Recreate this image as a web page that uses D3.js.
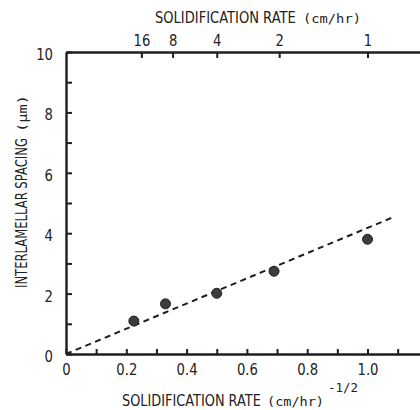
<!DOCTYPE html>
<html><head><meta charset="utf-8">
<script src="https://cdn.jsdelivr.net/npm/d3@7"></script>
<style>
body{margin:0;background:#fff;}
svg{display:block;}
.lab{font-family:"DejaVu Sans","Liberation Sans",sans-serif;fill:#222;}
.mono{font-family:"DejaVu Sans Mono","Liberation Mono",monospace;fill:#222;}
</style></head>
<body>
<script>
// ---- data ----
const invSqrtRate = [0.225, 0.33, 0.5, 0.69, 1.0];
const spacing = [1.09, 1.66, 2.01, 2.74, 3.80];
const fitLine = [[0, 0], [1.09, 4.55]];
const topRates = [16, 8, 4, 2, 1];
const yTicks = [0,1,2,3,4,5,6,7,8,9,10];
const xTicks = [0,0.1,0.2,0.3,0.4,0.5,0.6,0.7,0.8,0.9,1.0,1.1,1.2];

const W = 420, H = 410;
const svg = d3.select("body").append("svg").attr("width", W).attr("height", H);

const x = d3.scaleLinear().domain([0, 1.2]).range([66, 427.8]);
const y = d3.scaleLinear().domain([0, 10]).range([354, 52]);

const ink = "#1e1e1e";
function squeeze(sel, f){
  sel.each(function(){
    const w = this.getComputedTextLength();
    if (w > 0) d3.select(this).attr("textLength", w*f).attr("lengthAdjust","spacingAndGlyphs");
  });
}
function styleAxis(g){
  g.select(".domain").attr("stroke", ink).attr("stroke-width", 2.4);
  g.selectAll(".tick line").attr("stroke", ink).attr("stroke-width", 2);
  const t = g.selectAll(".tick text").attr("class","lab").attr("font-size", 16.5).attr("fill", "#222");
  squeeze(t, 0.8);
}

// left axis
svg.append("g").attr("transform", `translate(${x(0)},0)`)
  .call(d3.axisLeft(y).tickValues(yTicks).tickSize(-6).tickSizeOuter(0).tickPadding(13)
    .tickFormat(d => d % 2 === 0 ? d : ""))
  .call(styleAxis)
  .selectAll(".tick text").attr("dy", "0.45em");

// bottom axis
svg.append("g").attr("transform", `translate(0,${y(0)})`)
  .call(d3.axisBottom(x).tickValues(xTicks).tickSize(-5).tickSizeOuter(0).tickPadding(9)
    .tickFormat(d => { const k = Math.round(d*10); if (k % 2 !== 0 || k > 10) return ""; return k === 0 ? "0" : d.toFixed(1); }))
  .call(styleAxis);

// top axis
svg.append("g").attr("transform", `translate(0,${y(10)})`)
  .call(d3.axisTop(x).tickValues(topRates.map(r => 1/Math.sqrt(r))).tickSize(-6).tickSizeOuter(0).tickPadding(6)
    .tickFormat((d,i) => topRates[i]))
  .call(styleAxis);

// fit line
svg.append("path")
  .attr("d", d3.line().x(d => x(d[0])).y(d => y(d[1]))(fitLine))
  .attr("fill", "none").attr("stroke", ink).attr("stroke-width", 2)
  .attr("stroke-dasharray", "6,4.5");

// points
svg.selectAll("circle.pt").data(invSqrtRate).enter().append("circle")
  .attr("class","pt")
  .attr("cx", d => x(d)).attr("cy", (d,i) => y(spacing[i]))
  .attr("r", 5).attr("fill", "#3c3c3c").attr("stroke", "#222").attr("stroke-width", 1);

// titles: each piece is its own text, squeezed horizontally to the reference width
function piece(parent, cls, size, str, tx, ty, width){
  const g = parent.append("g");
  const t = g.append("text").attr("class", cls).attr("font-size", size).text(str);
  const w = t.node().getComputedTextLength();
  g.attr("transform", `translate(${tx},${ty}) scale(${width / w},1)`);
  return t;
}
piece(svg, "lab", 16.5, "SOLIDIFICATION RATE", 155, 23, 141);
piece(svg, "mono", 13, "(cm/hr)", 303, 23, 58);

piece(svg, "lab", 16.5, "SOLIDIFICATION RATE", 122, 406, 139);
piece(svg, "mono", 13, "(cm/hr)", 267, 406, 57);
piece(svg, "mono", 12, "-1/2", 328, 392, 30);

const yl = svg.append("g").attr("transform", "translate(27,288) rotate(-90)");
piece(yl, "lab", 16.5, "INTERLAMELLAR SPACING", 0, 0, 150);
piece(yl, "mono", 13, "(μm)", 156, 0, 37);
</script>
</body></html>
